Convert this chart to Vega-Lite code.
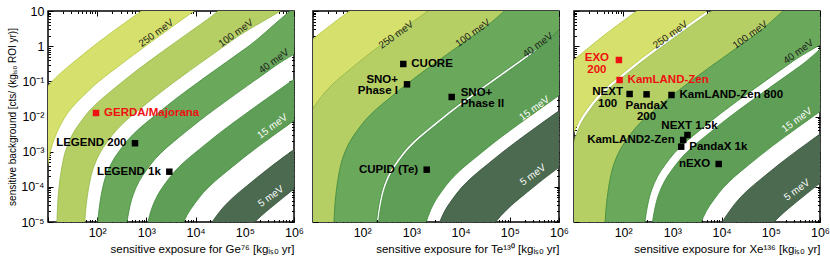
{
"$schema": "https://vega.github.io/schema/vega-lite/v6.json",
"padding": {"left": 6, "top": 4, "right": 5, "bottom": 5},
"background": "white",
"config": {
  "font": "Liberation Sans",
  "view": {"stroke": "black", "strokeWidth": 1.5},
  "axis": {"grid": false, "domain": false, "tickColor": "black", "tickWidth": 1, "labelColor": "black", "labelFont": "Liberation Sans", "labelFontSize": 12.5, "titleFont": "Liberation Sans", "titleFontSize": 11.5, "titleFontWeight": "normal", "titleColor": "black", "labelOverlap": false, "labelFlush": false, "labelBound": false, "labelPadding": 9}
},
"datasets": {
"ge_bands": [
{"b":"250","i":0,"x":0.37,"y":-5.37},{"b":"250","i":1,"x":0.42,"y":-3.42},{"b":"250","i":2,"x":0.51,"y":-2.51},{"b":"250","i":3,"x":0.59,"y":-2.09},{"b":"250","i":4,"x":0.71,"y":-1.71},{"b":"250","i":5,"x":0.87,"y":-1.37},{"b":"250","i":6,"x":1.05,"y":-1.05},{"b":"250","i":7,"x":1.26,"y":-0.76},{"b":"250","i":8,"x":1.49,"y":-0.49},{"b":"250","i":9,"x":1.96,"y":0.04},{"b":"250","i":10,"x":2.45,"y":0.55},{"b":"250","i":11,"x":3.45,"y":1.55},{"b":"250","i":12,"x":4.95,"y":3.05},
{"b":"250","i":13,"x":5.49,"y":2.52},{"b":"250","i":14,"x":3.99,"y":1.02},{"b":"250","i":15,"x":2.99,"y":0.01},{"b":"250","i":16,"x":2.5,"y":-0.5},{"b":"250","i":17,"x":2.02,"y":-1.02},{"b":"250","i":18,"x":1.8,"y":-1.3},{"b":"250","i":19,"x":1.59,"y":-1.59},{"b":"250","i":20,"x":1.4,"y":-1.9},{"b":"250","i":21,"x":1.25,"y":-2.25},{"b":"250","i":22,"x":1.13,"y":-2.63},{"b":"250","i":23,"x":1.04,"y":-3.04},{"b":"250","i":24,"x":0.95,"y":-3.95},{"b":"250","i":25,"x":0.91,"y":-5.91},
{"b":"100","i":0,"x":1.16,"y":-6.16},{"b":"100","i":1,"x":1.21,"y":-4.21},{"b":"100","i":2,"x":1.3,"y":-3.3},{"b":"100","i":3,"x":1.38,"y":-2.88},{"b":"100","i":4,"x":1.5,"y":-2.5},{"b":"100","i":5,"x":1.66,"y":-2.16},{"b":"100","i":6,"x":1.84,"y":-1.84},{"b":"100","i":7,"x":2.05,"y":-1.55},{"b":"100","i":8,"x":2.28,"y":-1.28},{"b":"100","i":9,"x":2.75,"y":-0.75},{"b":"100","i":10,"x":3.24,"y":-0.24},{"b":"100","i":11,"x":4.24,"y":0.76},{"b":"100","i":12,"x":5.74,"y":2.26},
{"b":"100","i":13,"x":6.29,"y":1.71},{"b":"100","i":14,"x":4.79,"y":0.21},{"b":"100","i":15,"x":3.79,"y":-0.79},{"b":"100","i":16,"x":3.3,"y":-1.3},{"b":"100","i":17,"x":2.83,"y":-1.83},{"b":"100","i":18,"x":2.6,"y":-2.1},{"b":"100","i":19,"x":2.39,"y":-2.39},{"b":"100","i":20,"x":2.21,"y":-2.71},{"b":"100","i":21,"x":2.05,"y":-3.05},{"b":"100","i":22,"x":1.93,"y":-3.43},{"b":"100","i":23,"x":1.85,"y":-3.85},{"b":"100","i":24,"x":1.76,"y":-4.76},{"b":"100","i":25,"x":1.71,"y":-6.71},
{"b":"40","i":0,"x":1.96,"y":-6.96},{"b":"40","i":1,"x":2.01,"y":-5.01},{"b":"40","i":2,"x":2.1,"y":-4.1},{"b":"40","i":3,"x":2.18,"y":-3.68},{"b":"40","i":4,"x":2.3,"y":-3.3},{"b":"40","i":5,"x":2.46,"y":-2.96},{"b":"40","i":6,"x":2.64,"y":-2.64},{"b":"40","i":7,"x":2.85,"y":-2.35},{"b":"40","i":8,"x":3.08,"y":-2.08},{"b":"40","i":9,"x":3.55,"y":-1.55},{"b":"40","i":10,"x":4.04,"y":-1.04},{"b":"40","i":11,"x":5.04,"y":-0.04},{"b":"40","i":12,"x":6.54,"y":1.46},
{"b":"40","i":13,"x":7.09,"y":0.91},{"b":"40","i":14,"x":5.59,"y":-0.59},{"b":"40","i":15,"x":4.59,"y":-1.59},{"b":"40","i":16,"x":4.1,"y":-2.1},{"b":"40","i":17,"x":3.63,"y":-2.63},{"b":"40","i":18,"x":3.4,"y":-2.9},{"b":"40","i":19,"x":3.19,"y":-3.19},{"b":"40","i":20,"x":3.01,"y":-3.51},{"b":"40","i":21,"x":2.85,"y":-3.85},{"b":"40","i":22,"x":2.73,"y":-4.23},{"b":"40","i":23,"x":2.65,"y":-4.65},{"b":"40","i":24,"x":2.56,"y":-5.56},{"b":"40","i":25,"x":2.51,"y":-7.51},
{"b":"15","i":0,"x":2.89,"y":-7.89},{"b":"15","i":1,"x":2.94,"y":-5.94},{"b":"15","i":2,"x":3.03,"y":-5.03},{"b":"15","i":3,"x":3.11,"y":-4.61},{"b":"15","i":4,"x":3.23,"y":-4.23},{"b":"15","i":5,"x":3.39,"y":-3.89},{"b":"15","i":6,"x":3.57,"y":-3.57},{"b":"15","i":7,"x":3.78,"y":-3.28},{"b":"15","i":8,"x":4.01,"y":-3.01},{"b":"15","i":9,"x":4.48,"y":-2.48},{"b":"15","i":10,"x":4.97,"y":-1.97},{"b":"15","i":11,"x":5.97,"y":-0.97},{"b":"15","i":12,"x":7.47,"y":0.53},
{"b":"15","i":13,"x":8.06,"y":-0.06},{"b":"15","i":14,"x":6.56,"y":-1.56},{"b":"15","i":15,"x":5.56,"y":-2.56},{"b":"15","i":16,"x":5.07,"y":-3.07},{"b":"15","i":17,"x":4.6,"y":-3.6},{"b":"15","i":18,"x":4.37,"y":-3.87},{"b":"15","i":19,"x":4.16,"y":-4.16},{"b":"15","i":20,"x":3.98,"y":-4.48},{"b":"15","i":21,"x":3.82,"y":-4.82},{"b":"15","i":22,"x":3.7,"y":-5.2},{"b":"15","i":23,"x":3.62,"y":-5.62},{"b":"15","i":24,"x":3.53,"y":-6.53},{"b":"15","i":25,"x":3.48,"y":-8.48},
{"b":"5","i":0,"x":3.89,"y":-8.89},{"b":"5","i":1,"x":3.94,"y":-6.94},{"b":"5","i":2,"x":4.03,"y":-6.03},{"b":"5","i":3,"x":4.11,"y":-5.61},{"b":"5","i":4,"x":4.23,"y":-5.23},{"b":"5","i":5,"x":4.39,"y":-4.89},{"b":"5","i":6,"x":4.57,"y":-4.57},{"b":"5","i":7,"x":4.78,"y":-4.28},{"b":"5","i":8,"x":5.01,"y":-4.01},{"b":"5","i":9,"x":5.48,"y":-3.48},{"b":"5","i":10,"x":5.97,"y":-2.97},{"b":"5","i":11,"x":6.97,"y":-1.97},{"b":"5","i":12,"x":8.47,"y":-0.47},
{"b":"5","i":13,"x":9.02,"y":-1.02},{"b":"5","i":14,"x":7.52,"y":-2.52},{"b":"5","i":15,"x":6.52,"y":-3.52},{"b":"5","i":16,"x":6.03,"y":-4.03},{"b":"5","i":17,"x":5.56,"y":-4.56},{"b":"5","i":18,"x":5.33,"y":-4.83},{"b":"5","i":19,"x":5.12,"y":-5.12},{"b":"5","i":20,"x":4.94,"y":-5.44},{"b":"5","i":21,"x":4.78,"y":-5.78},{"b":"5","i":22,"x":4.66,"y":-6.16},{"b":"5","i":23,"x":4.58,"y":-6.58},{"b":"5","i":24,"x":4.49,"y":-7.49},{"b":"5","i":25,"x":4.44,"y":-9.44}
],
"te_bands": [
{"b":"250","i":0,"x":-0.21,"y":-4.79},{"b":"250","i":1,"x":-0.16,"y":-2.84},{"b":"250","i":2,"x":-0.07,"y":-1.93},{"b":"250","i":3,"x":0.01,"y":-1.51},{"b":"250","i":4,"x":0.13,"y":-1.13},{"b":"250","i":5,"x":0.29,"y":-0.79},{"b":"250","i":6,"x":0.47,"y":-0.47},{"b":"250","i":7,"x":0.68,"y":-0.18},{"b":"250","i":8,"x":0.91,"y":0.1},{"b":"250","i":9,"x":1.38,"y":0.62},{"b":"250","i":10,"x":1.87,"y":1.13},{"b":"250","i":11,"x":2.87,"y":2.13},{"b":"250","i":12,"x":4.37,"y":3.63},
{"b":"250","i":13,"x":5.17,"y":2.83},{"b":"250","i":14,"x":3.67,"y":1.33},{"b":"250","i":15,"x":2.67,"y":0.33},{"b":"250","i":16,"x":2.18,"y":-0.18},{"b":"250","i":17,"x":1.71,"y":-0.71},{"b":"250","i":18,"x":1.48,"y":-0.98},{"b":"250","i":19,"x":1.27,"y":-1.27},{"b":"250","i":20,"x":1.09,"y":-1.59},{"b":"250","i":21,"x":0.93,"y":-1.93},{"b":"250","i":22,"x":0.81,"y":-2.31},{"b":"250","i":23,"x":0.73,"y":-2.73},{"b":"250","i":24,"x":0.64,"y":-3.64},{"b":"250","i":25,"x":0.59,"y":-5.59},
{"b":"100","i":0,"x":0.59,"y":-5.59},{"b":"100","i":1,"x":0.64,"y":-3.64},{"b":"100","i":2,"x":0.73,"y":-2.73},{"b":"100","i":3,"x":0.81,"y":-2.31},{"b":"100","i":4,"x":0.93,"y":-1.93},{"b":"100","i":5,"x":1.09,"y":-1.59},{"b":"100","i":6,"x":1.27,"y":-1.27},{"b":"100","i":7,"x":1.48,"y":-0.98},{"b":"100","i":8,"x":1.71,"y":-0.71},{"b":"100","i":9,"x":2.18,"y":-0.18},{"b":"100","i":10,"x":2.67,"y":0.33},{"b":"100","i":11,"x":3.67,"y":1.33},{"b":"100","i":12,"x":5.17,"y":2.83},
{"b":"100","i":13,"x":5.98,"y":2.02},{"b":"100","i":14,"x":4.48,"y":0.52},{"b":"100","i":15,"x":3.48,"y":-0.48},{"b":"100","i":16,"x":2.99,"y":-0.99},{"b":"100","i":17,"x":2.52,"y":-1.52},{"b":"100","i":18,"x":2.29,"y":-1.79},{"b":"100","i":19,"x":2.08,"y":-2.08},{"b":"100","i":20,"x":1.9,"y":-2.4},{"b":"100","i":21,"x":1.74,"y":-2.74},{"b":"100","i":22,"x":1.62,"y":-3.12},{"b":"100","i":23,"x":1.54,"y":-3.54},{"b":"100","i":24,"x":1.45,"y":-4.45},{"b":"100","i":25,"x":1.4,"y":-6.4},
{"b":"40","i":0,"x":1.4,"y":-6.4},{"b":"40","i":1,"x":1.45,"y":-4.45},{"b":"40","i":2,"x":1.54,"y":-3.54},{"b":"40","i":3,"x":1.62,"y":-3.12},{"b":"40","i":4,"x":1.74,"y":-2.74},{"b":"40","i":5,"x":1.9,"y":-2.4},{"b":"40","i":6,"x":2.08,"y":-2.08},{"b":"40","i":7,"x":2.29,"y":-1.79},{"b":"40","i":8,"x":2.52,"y":-1.52},{"b":"40","i":9,"x":2.99,"y":-0.99},{"b":"40","i":10,"x":3.48,"y":-0.48},{"b":"40","i":11,"x":4.48,"y":0.52},{"b":"40","i":12,"x":5.98,"y":2.02},
{"b":"40","i":13,"x":6.8,"y":1.2},{"b":"40","i":14,"x":5.3,"y":-0.3},{"b":"40","i":15,"x":4.3,"y":-1.3},{"b":"40","i":16,"x":3.81,"y":-1.81},{"b":"40","i":17,"x":3.34,"y":-2.34},{"b":"40","i":18,"x":3.11,"y":-2.61},{"b":"40","i":19,"x":2.9,"y":-2.9},{"b":"40","i":20,"x":2.72,"y":-3.22},{"b":"40","i":21,"x":2.56,"y":-3.56},{"b":"40","i":22,"x":2.44,"y":-3.94},{"b":"40","i":23,"x":2.36,"y":-4.36},{"b":"40","i":24,"x":2.27,"y":-5.27},{"b":"40","i":25,"x":2.22,"y":-7.22},
{"b":"15","i":0,"x":2.26,"y":-7.26},{"b":"15","i":1,"x":2.31,"y":-5.31},{"b":"15","i":2,"x":2.4,"y":-4.4},{"b":"15","i":3,"x":2.48,"y":-3.98},{"b":"15","i":4,"x":2.6,"y":-3.6},{"b":"15","i":5,"x":2.76,"y":-3.26},{"b":"15","i":6,"x":2.94,"y":-2.94},{"b":"15","i":7,"x":3.15,"y":-2.65},{"b":"15","i":8,"x":3.38,"y":-2.38},{"b":"15","i":9,"x":3.85,"y":-1.85},{"b":"15","i":10,"x":4.34,"y":-1.34},{"b":"15","i":11,"x":5.34,"y":-0.34},{"b":"15","i":12,"x":6.84,"y":1.16},
{"b":"15","i":13,"x":7.7,"y":0.3},{"b":"15","i":14,"x":6.2,"y":-1.2},{"b":"15","i":15,"x":5.2,"y":-2.2},{"b":"15","i":16,"x":4.71,"y":-2.71},{"b":"15","i":17,"x":4.24,"y":-3.24},{"b":"15","i":18,"x":4.01,"y":-3.51},{"b":"15","i":19,"x":3.8,"y":-3.8},{"b":"15","i":20,"x":3.62,"y":-4.12},{"b":"15","i":21,"x":3.46,"y":-4.46},{"b":"15","i":22,"x":3.34,"y":-4.84},{"b":"15","i":23,"x":3.26,"y":-5.26},{"b":"15","i":24,"x":3.17,"y":-6.17},{"b":"15","i":25,"x":3.12,"y":-8.12},
{"b":"5","i":0,"x":3.34,"y":-8.34},{"b":"5","i":1,"x":3.39,"y":-6.39},{"b":"5","i":2,"x":3.48,"y":-5.48},{"b":"5","i":3,"x":3.56,"y":-5.06},{"b":"5","i":4,"x":3.68,"y":-4.68},{"b":"5","i":5,"x":3.84,"y":-4.34},{"b":"5","i":6,"x":4.02,"y":-4.02},{"b":"5","i":7,"x":4.23,"y":-3.73},{"b":"5","i":8,"x":4.46,"y":-3.46},{"b":"5","i":9,"x":4.93,"y":-2.93},{"b":"5","i":10,"x":5.42,"y":-2.42},{"b":"5","i":11,"x":6.42,"y":-1.42},{"b":"5","i":12,"x":7.92,"y":0.08},
{"b":"5","i":13,"x":8.72,"y":-0.72},{"b":"5","i":14,"x":7.22,"y":-2.22},{"b":"5","i":15,"x":6.22,"y":-3.22},{"b":"5","i":16,"x":5.73,"y":-3.73},{"b":"5","i":17,"x":5.26,"y":-4.26},{"b":"5","i":18,"x":5.03,"y":-4.53},{"b":"5","i":19,"x":4.82,"y":-4.82},{"b":"5","i":20,"x":4.64,"y":-5.14},{"b":"5","i":21,"x":4.48,"y":-5.48},{"b":"5","i":22,"x":4.36,"y":-5.86},{"b":"5","i":23,"x":4.28,"y":-6.28},{"b":"5","i":24,"x":4.19,"y":-7.19},{"b":"5","i":25,"x":4.14,"y":-9.14}
],
"xe_bands": [
{"b":"250","i":0,"x":0.06,"y":-5.06},{"b":"250","i":1,"x":0.11,"y":-3.11},{"b":"250","i":2,"x":0.2,"y":-2.2},{"b":"250","i":3,"x":0.28,"y":-1.78},{"b":"250","i":4,"x":0.4,"y":-1.4},{"b":"250","i":5,"x":0.56,"y":-1.06},{"b":"250","i":6,"x":0.74,"y":-0.74},{"b":"250","i":7,"x":0.95,"y":-0.45},{"b":"250","i":8,"x":1.18,"y":-0.18},{"b":"250","i":9,"x":1.65,"y":0.35},{"b":"250","i":10,"x":2.14,"y":0.86},{"b":"250","i":11,"x":3.14,"y":1.86},{"b":"250","i":12,"x":4.64,"y":3.36},
{"b":"250","i":13,"x":5.35,"y":2.65},{"b":"250","i":14,"x":3.85,"y":1.15},{"b":"250","i":15,"x":2.85,"y":0.15},{"b":"250","i":16,"x":2.36,"y":-0.36},{"b":"250","i":17,"x":1.89,"y":-0.89},{"b":"250","i":18,"x":1.66,"y":-1.16},{"b":"250","i":19,"x":1.45,"y":-1.45},{"b":"250","i":20,"x":1.27,"y":-1.77},{"b":"250","i":21,"x":1.11,"y":-2.11},{"b":"250","i":22,"x":0.99,"y":-2.49},{"b":"250","i":23,"x":0.91,"y":-2.91},{"b":"250","i":24,"x":0.82,"y":-3.82},{"b":"250","i":25,"x":0.77,"y":-5.77},
{"b":"100","i":0,"x":0.82,"y":-5.82},{"b":"100","i":1,"x":0.87,"y":-3.87},{"b":"100","i":2,"x":0.96,"y":-2.96},{"b":"100","i":3,"x":1.04,"y":-2.54},{"b":"100","i":4,"x":1.16,"y":-2.16},{"b":"100","i":5,"x":1.32,"y":-1.82},{"b":"100","i":6,"x":1.5,"y":-1.5},{"b":"100","i":7,"x":1.71,"y":-1.21},{"b":"100","i":8,"x":1.94,"y":-0.94},{"b":"100","i":9,"x":2.41,"y":-0.41},{"b":"100","i":10,"x":2.9,"y":0.1},{"b":"100","i":11,"x":3.9,"y":1.1},{"b":"100","i":12,"x":5.4,"y":2.6},
{"b":"100","i":13,"x":6.18,"y":1.82},{"b":"100","i":14,"x":4.68,"y":0.32},{"b":"100","i":15,"x":3.68,"y":-0.68},{"b":"100","i":16,"x":3.19,"y":-1.19},{"b":"100","i":17,"x":2.72,"y":-1.72},{"b":"100","i":18,"x":2.49,"y":-1.99},{"b":"100","i":19,"x":2.28,"y":-2.28},{"b":"100","i":20,"x":2.1,"y":-2.6},{"b":"100","i":21,"x":1.94,"y":-2.94},{"b":"100","i":22,"x":1.82,"y":-3.32},{"b":"100","i":23,"x":1.74,"y":-3.74},{"b":"100","i":24,"x":1.65,"y":-4.65},{"b":"100","i":25,"x":1.6,"y":-6.6},
{"b":"40","i":0,"x":1.6,"y":-6.6},{"b":"40","i":1,"x":1.65,"y":-4.65},{"b":"40","i":2,"x":1.74,"y":-3.74},{"b":"40","i":3,"x":1.82,"y":-3.32},{"b":"40","i":4,"x":1.94,"y":-2.94},{"b":"40","i":5,"x":2.1,"y":-2.6},{"b":"40","i":6,"x":2.28,"y":-2.28},{"b":"40","i":7,"x":2.49,"y":-1.99},{"b":"40","i":8,"x":2.72,"y":-1.72},{"b":"40","i":9,"x":3.19,"y":-1.19},{"b":"40","i":10,"x":3.68,"y":-0.68},{"b":"40","i":11,"x":4.68,"y":0.32},{"b":"40","i":12,"x":6.18,"y":1.82},
{"b":"40","i":13,"x":6.94,"y":1.06},{"b":"40","i":14,"x":5.44,"y":-0.44},{"b":"40","i":15,"x":4.44,"y":-1.44},{"b":"40","i":16,"x":3.95,"y":-1.95},{"b":"40","i":17,"x":3.48,"y":-2.48},{"b":"40","i":18,"x":3.25,"y":-2.75},{"b":"40","i":19,"x":3.04,"y":-3.04},{"b":"40","i":20,"x":2.86,"y":-3.36},{"b":"40","i":21,"x":2.7,"y":-3.7},{"b":"40","i":22,"x":2.58,"y":-4.08},{"b":"40","i":23,"x":2.5,"y":-4.5},{"b":"40","i":24,"x":2.41,"y":-5.41},{"b":"40","i":25,"x":2.36,"y":-7.36},
{"b":"15","i":0,"x":2.5,"y":-7.5},{"b":"15","i":1,"x":2.55,"y":-5.55},{"b":"15","i":2,"x":2.64,"y":-4.64},{"b":"15","i":3,"x":2.72,"y":-4.22},{"b":"15","i":4,"x":2.84,"y":-3.84},{"b":"15","i":5,"x":3.0,"y":-3.5},{"b":"15","i":6,"x":3.18,"y":-3.18},{"b":"15","i":7,"x":3.39,"y":-2.89},{"b":"15","i":8,"x":3.62,"y":-2.62},{"b":"15","i":9,"x":4.09,"y":-2.09},{"b":"15","i":10,"x":4.58,"y":-1.58},{"b":"15","i":11,"x":5.58,"y":-0.58},{"b":"15","i":12,"x":7.08,"y":0.92},
{"b":"15","i":13,"x":7.93,"y":0.07},{"b":"15","i":14,"x":6.43,"y":-1.43},{"b":"15","i":15,"x":5.43,"y":-2.43},{"b":"15","i":16,"x":4.94,"y":-2.94},{"b":"15","i":17,"x":4.47,"y":-3.47},{"b":"15","i":18,"x":4.24,"y":-3.74},{"b":"15","i":19,"x":4.03,"y":-4.03},{"b":"15","i":20,"x":3.85,"y":-4.35},{"b":"15","i":21,"x":3.69,"y":-4.69},{"b":"15","i":22,"x":3.57,"y":-5.07},{"b":"15","i":23,"x":3.49,"y":-5.49},{"b":"15","i":24,"x":3.4,"y":-6.4},{"b":"15","i":25,"x":3.35,"y":-8.35},
{"b":"5","i":0,"x":3.67,"y":-8.67},{"b":"5","i":1,"x":3.72,"y":-6.72},{"b":"5","i":2,"x":3.81,"y":-5.81},{"b":"5","i":3,"x":3.89,"y":-5.39},{"b":"5","i":4,"x":4.01,"y":-5.01},{"b":"5","i":5,"x":4.17,"y":-4.67},{"b":"5","i":6,"x":4.35,"y":-4.35},{"b":"5","i":7,"x":4.56,"y":-4.06},{"b":"5","i":8,"x":4.79,"y":-3.79},{"b":"5","i":9,"x":5.26,"y":-3.26},{"b":"5","i":10,"x":5.75,"y":-2.75},{"b":"5","i":11,"x":6.75,"y":-1.75},{"b":"5","i":12,"x":8.25,"y":-0.25},
{"b":"5","i":13,"x":8.94,"y":-0.94},{"b":"5","i":14,"x":7.44,"y":-2.44},{"b":"5","i":15,"x":6.44,"y":-3.44},{"b":"5","i":16,"x":5.95,"y":-3.95},{"b":"5","i":17,"x":5.48,"y":-4.48},{"b":"5","i":18,"x":5.25,"y":-4.75},{"b":"5","i":19,"x":5.04,"y":-5.04},{"b":"5","i":20,"x":4.86,"y":-5.36},{"b":"5","i":21,"x":4.7,"y":-5.7},{"b":"5","i":22,"x":4.58,"y":-6.08},{"b":"5","i":23,"x":4.5,"y":-6.5},{"b":"5","i":24,"x":4.41,"y":-7.41},{"b":"5","i":25,"x":4.36,"y":-9.36}
],
"ge_tags": [{"b":"250","t":"250 meV","x":3.2,"y":0.37},{"b":"100","t":"100 meV","x":4.82,"y":0.37},{"b":"40","t":"40 meV","x":5.59,"y":-0.43},{"b":"15","t":"15 meV","x":5.56,"y":-2.28},{"b":"5","t":"5 meV","x":5.53,"y":-4.27}],
"te_tags": [{"b":"250","t":"250 meV","x":2.69,"y":0.32},{"b":"100","t":"100 meV","x":4.25,"y":0.37},{"b":"40","t":"40 meV","x":5.57,"y":0.03},{"b":"15","t":"15 meV","x":5.5,"y":-1.77},{"b":"5","t":"5 meV","x":5.47,"y":-3.66}],
"xe_tags": [{"b":"250","t":"250 meV","x":2.96,"y":0.32},{"b":"100","t":"100 meV","x":4.58,"y":0.32},{"b":"40","t":"40 meV","x":5.56,"y":-0.16},{"b":"15","t":"15 meV","x":5.53,"y":-2.1},{"b":"5","t":"5 meV","x":5.53,"y":-4.09}],
"ge_exp": [
{"name":"GERDA/Majorana","x":1.976,"y":-1.9,"kind":"limit","side":"right"},
{"name":"LEGEND 200","x":2.768,"y":-2.76,"kind":"projection","side":"left"},
{"name":"LEGEND 1k","x":3.466,"y":-3.57,"kind":"projection","side":"left"}
],
"te_exp": [
{"name":"CUORE","x":2.835,"y":-0.507,"kind":"projection","side":"right"},
{"name":"SNO+\nPhase I","x":2.911,"y":-1.085,"kind":"projection","side":"left"},
{"name":"SNO+\nPhase II","x":3.819,"y":-1.445,"kind":"projection","side":"right"},
{"name":"CUPID (Te)","x":3.311,"y":-3.512,"kind":"projection","side":"left"}
],
"xe_exp": [
{"name":"EXO\n200","x":1.913,"y":-0.393,"kind":"limit","side":"leftcenter"},
{"name":"KamLAND-Zen","x":1.927,"y":-0.962,"kind":"limit","side":"right"},
{"name":"NEXT\n100","x":2.13,"y":-1.36,"kind":"projection","side":"leftcenter"},
{"name":"PandaX\n200","x":2.475,"y":-1.37,"kind":"projection","side":"below"},
{"name":"KamLAND-Zen 800","x":2.982,"y":-1.388,"kind":"projection","side":"right"},
{"name":"NEXT 1.5k","x":3.306,"y":-2.526,"kind":"projection","side":"above"},
{"name":"KamLAND2-Zen","x":3.219,"y":-2.668,"kind":"projection","side":"left"},
{"name":"PandaX 1k","x":3.179,"y":-2.858,"kind":"projection","side":"right"},
{"name":"nEXO","x":3.941,"y":-3.35,"kind":"projection","side":"left"}
]
},
"bounds": "flush",
"spacing": 19,
"hconcat": [
{
 "width": 246, "height": 211,
 "resolve": {"axis": {"x": "independent", "y": "independent"}},
 "layer": [
  {"data": {"name": "ge_bands"},
   "mark": {"type": "line", "interpolate": "catmull-rom", "clip": true, "strokeWidth": 0.8},
   "encoding": {
    "x": {"field": "x", "type": "quantitative", "scale": {"domain": [1, 6], "nice": false, "zero": false},
      "axis": {"orient": "bottom", "values": [1,1.301,1.477,1.602,1.699,1.778,1.845,1.903,1.954,2,2.301,2.477,2.602,2.699,2.778,2.845,2.903,2.954,3,3.301,3.477,3.602,3.699,3.778,3.845,3.903,3.954,4,4.301,4.477,4.602,4.699,4.778,4.845,4.903,4.954,5,5.301,5.477,5.602,5.699,5.778,5.845,5.903,5.954,6],
       "labelExpr": "datum.value==2?'10²':datum.value==3?'10³':datum.value==4?'10⁴':datum.value==5?'10⁵':datum.value==6?'10⁶':''",
       "tickSize": {"condition": {"test": "datum.value != round(datum.value)", "value": -2.5}, "value": -5},
       "title": "sensitive exposure for Ge⁷⁶  [kgᵢₛₒ yr]", "titleAnchor": "end", "titlePadding": 2}},
    "y": {"field": "y", "type": "quantitative", "scale": {"domain": [-5, 1], "nice": false, "zero": false},
      "axis": {"orient": "left", "values": [-5,-4.699,-4.523,-4.398,-4.301,-4.222,-4.155,-4.097,-4.046,-4,-3.699,-3.523,-3.398,-3.301,-3.222,-3.155,-3.097,-3.046,-3,-2.699,-2.523,-2.398,-2.301,-2.222,-2.155,-2.097,-2.046,-2,-1.699,-1.523,-1.398,-1.301,-1.222,-1.155,-1.097,-1.046,-1,-0.699,-0.523,-0.398,-0.301,-0.222,-0.155,-0.097,-0.046,0,0.301,0.477,0.602,0.699,0.778,0.845,0.903,0.954,1],
       "labelExpr": "datum.value==1?'10':datum.value==0?'1':datum.value==-1?'10⁻¹':datum.value==-2?'10⁻²':datum.value==-3?'10⁻³':datum.value==-4?'10⁻⁴':datum.value==-5?'10⁻⁵':''",
       "tickSize": {"condition": {"test": "datum.value != round(datum.value)", "value": -2.5}, "value": -5},
       "title": "sensitive background [cts/ (kgᵢₛₒ ROI yr)]", "titleFontSize": 10, "titlePadding": 3}},
    "order": {"field": "i", "type": "quantitative"},
    "fill": {"field": "b", "type": "nominal", "scale": {"domain": ["250","100","40","15","5"], "range": ["#d6e06c","#b5cf65","#6aa85c","#5f9e56","#4b6a4f"]}, "legend": null},
    "stroke": {"field": "b", "type": "nominal", "scale": {"domain": ["250","100","40","15","5"], "range": ["#b4c640","#97b849","#3f8a3a","#3f8a3a","#2f4c35"]}, "legend": null}
   }},
  {"data": {"name": "ge_tags"},
   "mark": {"type": "text", "angle": -36, "fontSize": 10},
   "encoding": {
    "x": {"field": "x", "type": "quantitative", "axis": null},
    "y": {"field": "y", "type": "quantitative", "axis": null},
    "text": {"field": "t"},
    "color": {"condition": {"test": "datum.b == '15' || datum.b == '5'", "value": "#ffffff"}, "value": "#1a1a1a"}
   }},
  {"data": {"name": "ge_exp"},
   "mark": {"type": "square", "size": 42, "filled": true, "opacity": 1},
   "encoding": {
    "x": {"field": "x", "type": "quantitative", "axis": {"orient": "top", "labels": false, "title": null, "values": [1,1.301,1.477,1.602,1.699,1.778,1.845,1.903,1.954,2,2.301,2.477,2.602,2.699,2.778,2.845,2.903,2.954,3,3.301,3.477,3.602,3.699,3.778,3.845,3.903,3.954,4,4.301,4.477,4.602,4.699,4.778,4.845,4.903,4.954,5,5.301,5.477,5.602,5.699,5.778,5.845,5.903,5.954,6], "tickSize": {"condition": {"test": "datum.value != round(datum.value)", "value": -2.5}, "value": -5}}},
    "y": {"field": "y", "type": "quantitative", "axis": {"orient": "right", "labels": false, "title": null, "values": [-5,-4.699,-4.523,-4.398,-4.301,-4.222,-4.155,-4.097,-4.046,-4,-3.699,-3.523,-3.398,-3.301,-3.222,-3.155,-3.097,-3.046,-3,-2.699,-2.523,-2.398,-2.301,-2.222,-2.155,-2.097,-2.046,-2,-1.699,-1.523,-1.398,-1.301,-1.222,-1.155,-1.097,-1.046,-1,-0.699,-0.523,-0.398,-0.301,-0.222,-0.155,-0.097,-0.046,0,0.301,0.477,0.602,0.699,0.778,0.845,0.903,0.954,1], "tickSize": {"condition": {"test": "datum.value != round(datum.value)", "value": -2.5}, "value": -5}}},
    "color": {"condition": {"test": "datum.kind == 'limit'", "value": "#ee1111"}, "value": "#000000"}
   }},
  {"data": {"name": "ge_exp"}, "transform": [{"filter": "datum.side == 'right'"}],
   "mark": {"type": "text", "align": "left", "dx": 8, "fontSize": 11.5, "fontWeight": "bold", "lineBreak": "\n", "lineHeight": 11.5},
   "encoding": {"x": {"field": "x", "type": "quantitative", "axis": null}, "y": {"field": "y", "type": "quantitative", "axis": null}, "text": {"field": "name"},
    "color": {"condition": {"test": "datum.kind == 'limit'", "value": "#ee1111"}, "value": "#000000"}}},
  {"data": {"name": "ge_exp"}, "transform": [{"filter": "datum.side == 'left'"}],
   "mark": {"type": "text", "align": "right", "dx": -8.5, "fontSize": 11.5, "fontWeight": "bold", "lineBreak": "\n", "lineHeight": 11.5},
   "encoding": {"x": {"field": "x", "type": "quantitative", "axis": null}, "y": {"field": "y", "type": "quantitative", "axis": null}, "text": {"field": "name"},
    "color": {"condition": {"test": "datum.kind == 'limit'", "value": "#ee1111"}, "value": "#000000"}}}
 ]
},
{
 "bounds": "flush",
 "spacing": 15,
 "hconcat": [
 {
  "width": 246, "height": 211,
  "resolve": {"axis": {"x": "independent", "y": "independent"}},
  "layer": [
   {"data": {"name": "te_bands"},
    "mark": {"type": "line", "interpolate": "catmull-rom", "clip": true, "strokeWidth": 0.8},
    "encoding": {
     "x": {"field": "x", "type": "quantitative", "scale": {"domain": [1, 6], "nice": false, "zero": false},
       "axis": {"orient": "bottom", "values": [1,1.301,1.477,1.602,1.699,1.778,1.845,1.903,1.954,2,2.301,2.477,2.602,2.699,2.778,2.845,2.903,2.954,3,3.301,3.477,3.602,3.699,3.778,3.845,3.903,3.954,4,4.301,4.477,4.602,4.699,4.778,4.845,4.903,4.954,5,5.301,5.477,5.602,5.699,5.778,5.845,5.903,5.954,6],
        "labelExpr": "datum.value==2?'10²':datum.value==3?'10³':datum.value==4?'10⁴':datum.value==5?'10⁵':datum.value==6?'10⁶':''",
        "tickSize": {"condition": {"test": "datum.value != round(datum.value)", "value": -2.5}, "value": -5},
        "title": "sensitive exposure for Te¹³⁰  [kgᵢₛₒ yr]", "titleAnchor": "end", "titlePadding": 2}},
     "y": {"field": "y", "type": "quantitative", "scale": {"domain": [-5, 1], "nice": false, "zero": false},
       "axis": {"orient": "left", "labels": false, "title": null, "values": [-5,-4.699,-4.523,-4.398,-4.301,-4.222,-4.155,-4.097,-4.046,-4,-3.699,-3.523,-3.398,-3.301,-3.222,-3.155,-3.097,-3.046,-3,-2.699,-2.523,-2.398,-2.301,-2.222,-2.155,-2.097,-2.046,-2,-1.699,-1.523,-1.398,-1.301,-1.222,-1.155,-1.097,-1.046,-1,-0.699,-0.523,-0.398,-0.301,-0.222,-0.155,-0.097,-0.046,0,0.301,0.477,0.602,0.699,0.778,0.845,0.903,0.954,1],
        "tickSize": {"condition": {"test": "datum.value != round(datum.value)", "value": -2.5}, "value": -5}}},
     "order": {"field": "i", "type": "quantitative"},
     "fill": {"field": "b", "type": "nominal", "scale": {"domain": ["250","100","40","15","5"], "range": ["#d6e06c","#b5cf65","#6aa85c","#5f9e56","#4b6a4f"]}, "legend": null},
     "stroke": {"field": "b", "type": "nominal", "scale": {"domain": ["250","100","40","15","5"], "range": ["#b4c640","#97b849","#3f8a3a","#3f8a3a","#2f4c35"]}, "legend": null}
    }},
   {"data": {"name": "te_tags"},
    "mark": {"type": "text", "angle": -36, "fontSize": 10},
    "encoding": {
     "x": {"field": "x", "type": "quantitative", "axis": null},
     "y": {"field": "y", "type": "quantitative", "axis": null},
     "text": {"field": "t"},
     "color": {"condition": {"test": "datum.b == '15' || datum.b == '5'", "value": "#ffffff"}, "value": "#1a1a1a"}
    }},
   {"data": {"name": "te_exp"},
    "mark": {"type": "square", "size": 42, "filled": true, "opacity": 1},
    "encoding": {
     "x": {"field": "x", "type": "quantitative", "axis": {"orient": "top", "labels": false, "title": null, "values": [1,1.301,1.477,1.602,1.699,1.778,1.845,1.903,1.954,2,2.301,2.477,2.602,2.699,2.778,2.845,2.903,2.954,3,3.301,3.477,3.602,3.699,3.778,3.845,3.903,3.954,4,4.301,4.477,4.602,4.699,4.778,4.845,4.903,4.954,5,5.301,5.477,5.602,5.699,5.778,5.845,5.903,5.954,6], "tickSize": {"condition": {"test": "datum.value != round(datum.value)", "value": -2.5}, "value": -5}}},
     "y": {"field": "y", "type": "quantitative", "axis": {"orient": "right", "labels": false, "title": null, "values": [-5,-4.699,-4.523,-4.398,-4.301,-4.222,-4.155,-4.097,-4.046,-4,-3.699,-3.523,-3.398,-3.301,-3.222,-3.155,-3.097,-3.046,-3,-2.699,-2.523,-2.398,-2.301,-2.222,-2.155,-2.097,-2.046,-2,-1.699,-1.523,-1.398,-1.301,-1.222,-1.155,-1.097,-1.046,-1,-0.699,-0.523,-0.398,-0.301,-0.222,-0.155,-0.097,-0.046,0,0.301,0.477,0.602,0.699,0.778,0.845,0.903,0.954,1], "tickSize": {"condition": {"test": "datum.value != round(datum.value)", "value": -2.5}, "value": -5}}},
     "color": {"condition": {"test": "datum.kind == 'limit'", "value": "#ee1111"}, "value": "#000000"}
    }},
   {"data": {"name": "te_exp"}, "transform": [{"filter": "datum.side == 'right' && indexof(datum.name, '\\n') < 0"}],
    "mark": {"type": "text", "align": "left", "dx": 8, "fontSize": 11.5, "fontWeight": "bold", "lineBreak": "\n", "lineHeight": 11.5},
    "encoding": {"x": {"field": "x", "type": "quantitative", "axis": null}, "y": {"field": "y", "type": "quantitative", "axis": null}, "text": {"field": "name"},
     "color": {"condition": {"test": "datum.kind == 'limit'", "value": "#ee1111"}, "value": "#000000"}}},
   {"data": {"name": "te_exp"}, "transform": [{"filter": "datum.side == 'right' && indexof(datum.name, '\\n') >= 0"}],
    "mark": {"type": "text", "align": "left", "dx": 9, "dy": -4, "fontSize": 11.5, "fontWeight": "bold", "lineBreak": "\n", "lineHeight": 11.5},
    "encoding": {"x": {"field": "x", "type": "quantitative", "axis": null}, "y": {"field": "y", "type": "quantitative", "axis": null}, "text": {"field": "name"},
     "color": {"condition": {"test": "datum.kind == 'limit'", "value": "#ee1111"}, "value": "#000000"}}},
   {"data": {"name": "te_exp"}, "transform": [{"filter": "datum.side == 'left' && indexof(datum.name, '\\n') < 0"}],
    "mark": {"type": "text", "align": "right", "dx": -8.5, "fontSize": 11.5, "fontWeight": "bold", "lineBreak": "\n", "lineHeight": 11.5},
    "encoding": {"x": {"field": "x", "type": "quantitative", "axis": null}, "y": {"field": "y", "type": "quantitative", "axis": null}, "text": {"field": "name"},
     "color": {"condition": {"test": "datum.kind == 'limit'", "value": "#ee1111"}, "value": "#000000"}}},
   {"data": {"name": "te_exp"}, "transform": [{"filter": "datum.side == 'left' && indexof(datum.name, '\\n') >= 0"}],
    "mark": {"type": "text", "align": "right", "dx": -9, "dy": -4.5, "fontSize": 11.5, "fontWeight": "bold", "lineBreak": "\n", "lineHeight": 11.5},
    "encoding": {"x": {"field": "x", "type": "quantitative", "axis": null}, "y": {"field": "y", "type": "quantitative", "axis": null}, "text": {"field": "name"},
     "color": {"condition": {"test": "datum.kind == 'limit'", "value": "#ee1111"}, "value": "#000000"}}}
  ]
 },
 {
  "width": 246, "height": 211,
  "resolve": {"axis": {"x": "independent", "y": "independent"}},
  "layer": [
   {"data": {"name": "xe_bands"},
    "mark": {"type": "line", "interpolate": "catmull-rom", "clip": true, "strokeWidth": 0.8},
    "encoding": {
     "x": {"field": "x", "type": "quantitative", "scale": {"domain": [1, 6], "nice": false, "zero": false},
       "axis": {"orient": "bottom", "values": [1,1.301,1.477,1.602,1.699,1.778,1.845,1.903,1.954,2,2.301,2.477,2.602,2.699,2.778,2.845,2.903,2.954,3,3.301,3.477,3.602,3.699,3.778,3.845,3.903,3.954,4,4.301,4.477,4.602,4.699,4.778,4.845,4.903,4.954,5,5.301,5.477,5.602,5.699,5.778,5.845,5.903,5.954,6],
        "labelExpr": "datum.value==2?'10²':datum.value==3?'10³':datum.value==4?'10⁴':datum.value==5?'10⁵':datum.value==6?'10⁶':''",
        "tickSize": {"condition": {"test": "datum.value != round(datum.value)", "value": -2.5}, "value": -5},
        "title": "sensitive exposure for Xe¹³⁶  [kgᵢₛₒ yr]", "titleAnchor": "end", "titlePadding": 2}},
     "y": {"field": "y", "type": "quantitative", "scale": {"domain": [-5, 1], "nice": false, "zero": false},
       "axis": {"orient": "left", "labels": false, "title": null, "values": [-5,-4.699,-4.523,-4.398,-4.301,-4.222,-4.155,-4.097,-4.046,-4,-3.699,-3.523,-3.398,-3.301,-3.222,-3.155,-3.097,-3.046,-3,-2.699,-2.523,-2.398,-2.301,-2.222,-2.155,-2.097,-2.046,-2,-1.699,-1.523,-1.398,-1.301,-1.222,-1.155,-1.097,-1.046,-1,-0.699,-0.523,-0.398,-0.301,-0.222,-0.155,-0.097,-0.046,0,0.301,0.477,0.602,0.699,0.778,0.845,0.903,0.954,1],
        "tickSize": {"condition": {"test": "datum.value != round(datum.value)", "value": -2.5}, "value": -5}}},
     "order": {"field": "i", "type": "quantitative"},
     "fill": {"field": "b", "type": "nominal", "scale": {"domain": ["250","100","40","15","5"], "range": ["#d6e06c","#b5cf65","#6aa85c","#5f9e56","#4b6a4f"]}, "legend": null},
     "stroke": {"field": "b", "type": "nominal", "scale": {"domain": ["250","100","40","15","5"], "range": ["#b4c640","#97b849","#3f8a3a","#3f8a3a","#2f4c35"]}, "legend": null}
    }},
   {"data": {"name": "xe_tags"},
    "mark": {"type": "text", "angle": -36, "fontSize": 10},
    "encoding": {
     "x": {"field": "x", "type": "quantitative", "axis": null},
     "y": {"field": "y", "type": "quantitative", "axis": null},
     "text": {"field": "t"},
     "color": {"condition": {"test": "datum.b == '15' || datum.b == '5'", "value": "#ffffff"}, "value": "#1a1a1a"}
    }},
   {"data": {"name": "xe_exp"},
    "mark": {"type": "square", "size": 42, "filled": true, "opacity": 1},
    "encoding": {
     "x": {"field": "x", "type": "quantitative", "axis": {"orient": "top", "labels": false, "title": null, "values": [1,1.301,1.477,1.602,1.699,1.778,1.845,1.903,1.954,2,2.301,2.477,2.602,2.699,2.778,2.845,2.903,2.954,3,3.301,3.477,3.602,3.699,3.778,3.845,3.903,3.954,4,4.301,4.477,4.602,4.699,4.778,4.845,4.903,4.954,5,5.301,5.477,5.602,5.699,5.778,5.845,5.903,5.954,6], "tickSize": {"condition": {"test": "datum.value != round(datum.value)", "value": -2.5}, "value": -5}}},
     "y": {"field": "y", "type": "quantitative", "axis": {"orient": "right", "labels": false, "title": null, "values": [-5,-4.699,-4.523,-4.398,-4.301,-4.222,-4.155,-4.097,-4.046,-4,-3.699,-3.523,-3.398,-3.301,-3.222,-3.155,-3.097,-3.046,-3,-2.699,-2.523,-2.398,-2.301,-2.222,-2.155,-2.097,-2.046,-2,-1.699,-1.523,-1.398,-1.301,-1.222,-1.155,-1.097,-1.046,-1,-0.699,-0.523,-0.398,-0.301,-0.222,-0.155,-0.097,-0.046,0,0.301,0.477,0.602,0.699,0.778,0.845,0.903,0.954,1], "tickSize": {"condition": {"test": "datum.value != round(datum.value)", "value": -2.5}, "value": -5}}},
     "color": {"condition": {"test": "datum.kind == 'limit'", "value": "#ee1111"}, "value": "#000000"}
    }},
   {"data": {"name": "xe_exp"}, "transform": [{"filter": "datum.side == 'right'"}],
    "mark": {"type": "text", "align": "left", "dx": 8, "fontSize": 11.5, "fontWeight": "bold", "lineBreak": "\n", "lineHeight": 11.5},
    "encoding": {"x": {"field": "x", "type": "quantitative", "axis": null}, "y": {"field": "y", "type": "quantitative", "axis": null}, "text": {"field": "name"},
     "color": {"condition": {"test": "datum.kind == 'limit'", "value": "#ee1111"}, "value": "#000000"}}},
   {"data": {"name": "xe_exp"}, "transform": [{"filter": "datum.side == 'left'"}],
    "mark": {"type": "text", "align": "right", "dx": -8.5, "fontSize": 11.5, "fontWeight": "bold", "lineBreak": "\n", "lineHeight": 11.5},
    "encoding": {"x": {"field": "x", "type": "quantitative", "axis": null}, "y": {"field": "y", "type": "quantitative", "axis": null}, "text": {"field": "name"},
     "color": {"condition": {"test": "datum.kind == 'limit'", "value": "#ee1111"}, "value": "#000000"}}},
   {"data": {"name": "xe_exp"}, "transform": [{"filter": "datum.side == 'leftcenter'"}],
    "mark": {"type": "text", "align": "center", "dx": -22, "dy": -1.5, "fontSize": 11.5, "fontWeight": "bold", "lineBreak": "\n", "lineHeight": 11.5},
    "encoding": {"x": {"field": "x", "type": "quantitative", "axis": null}, "y": {"field": "y", "type": "quantitative", "axis": null}, "text": {"field": "name"},
     "color": {"condition": {"test": "datum.kind == 'limit'", "value": "#ee1111"}, "value": "#000000"}}},
   {"data": {"name": "xe_exp"}, "transform": [{"filter": "datum.side == 'below'"}],
    "mark": {"type": "text", "align": "center", "dy": 11.5, "fontSize": 11.5, "fontWeight": "bold", "lineBreak": "\n", "lineHeight": 11.5},
    "encoding": {"x": {"field": "x", "type": "quantitative", "axis": null}, "y": {"field": "y", "type": "quantitative", "axis": null}, "text": {"field": "name"},
     "color": {"condition": {"test": "datum.kind == 'limit'", "value": "#ee1111"}, "value": "#000000"}}},
   {"data": {"name": "xe_exp"}, "transform": [{"filter": "datum.side == 'above'"}],
    "mark": {"type": "text", "align": "center", "dx": 2, "dy": -8.5, "fontSize": 11.5, "fontWeight": "bold", "lineBreak": "\n", "lineHeight": 11.5},
    "encoding": {"x": {"field": "x", "type": "quantitative", "axis": null}, "y": {"field": "y", "type": "quantitative", "axis": null}, "text": {"field": "name"},
     "color": {"condition": {"test": "datum.kind == 'limit'", "value": "#ee1111"}, "value": "#000000"}}}
  ]
 }
 ]
}
]
}
